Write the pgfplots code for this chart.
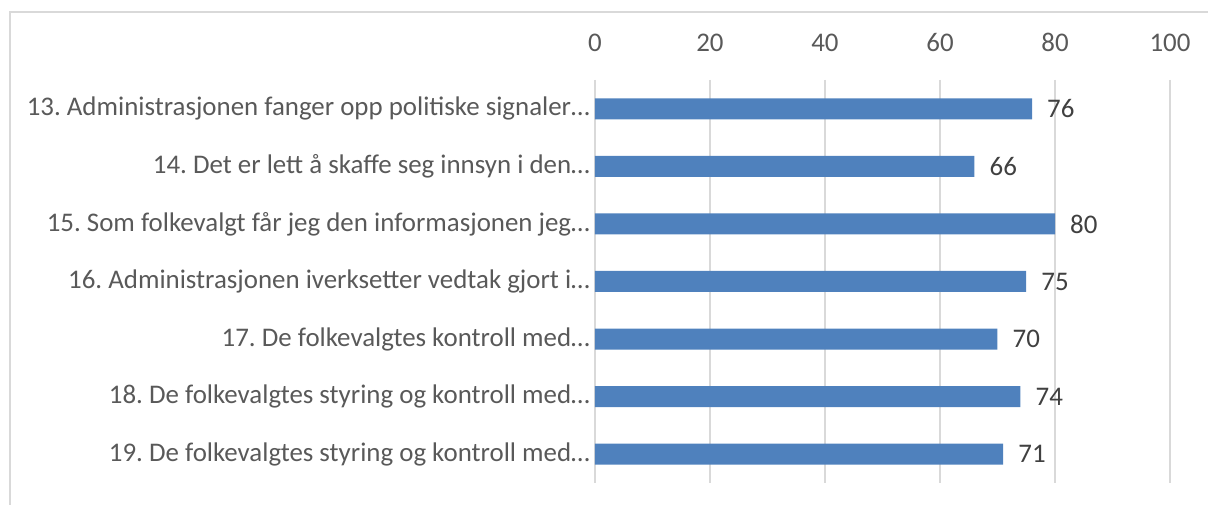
\documentclass[border=0pt]{standalone}
\usepackage{pgfplots}
\pgfplotsset{compat=1.18}
\usepackage{fontspec}
\setmainfont{Carlito}
\frenchspacing
\definecolor{barblue}{HTML}{4F81BD}
\definecolor{gridgray}{HTML}{D9D9D9}
\definecolor{labgray}{HTML}{595959}
\definecolor{datagray}{HTML}{404040}
\begin{document}
\begin{tikzpicture}[x=1bp,y=1bp]
\path[use as bounding box] (-595,-22) rectangle (613,483);
\draw[gridgray, line width=1.5bp] (-585,-22) -- (-585,471) -- (613,471);
\begin{axis}[
  at={(0,0)}, anchor=south west,
  scale only axis, width=575bp, height=403bp,
  xbar, bar width=21bp,
  xmin=0, xmax=100, ymin=-0.5, ymax=6.5, y dir=reverse,
  xtick={0,20,...,100}, ytick={0,...,6},
  yticklabels={
    {13. Administrasjonen fanger opp politiske signaler…},
    {14. Det er lett å skaffe seg innsyn i den…},
    {15. Som folkevalgt får jeg den informasjonen jeg…},
    {16. Administrasjonen iverksetter vedtak gjort i…},
    {17. De folkevalgtes kontroll med…},
    {18. De folkevalgtes styring og kontroll med…},
    {19. De folkevalgtes styring og kontroll med…}},
  axis line style={draw=none},
  major tick length=0pt,
  xmajorgrids, grid style={gridgray, line width=1.5bp},
  xticklabel pos=upper,
  /pgf/number format/assume math mode=true,
  xticklabel style={anchor=base, inner sep=0pt, yshift=28bp, font=\fontsize{27}{32}\selectfont, text=labgray},
  yticklabel style={anchor=east, inner sep=0pt, xshift=-5bp, font=\fontsize{27}{32}\selectfont, text=labgray},
  nodes near coords,
  every node near coord/.append style={anchor=west, inner sep=0pt, xshift=15bp, font=\fontsize{27}{32}\selectfont, text=datagray},
]
\addplot[fill=barblue, draw=none] coordinates {(76,0) (66,1) (80,2) (75,3) (70,4) (74,5) (71,6)};
\end{axis}
\end{tikzpicture}
\end{document}
